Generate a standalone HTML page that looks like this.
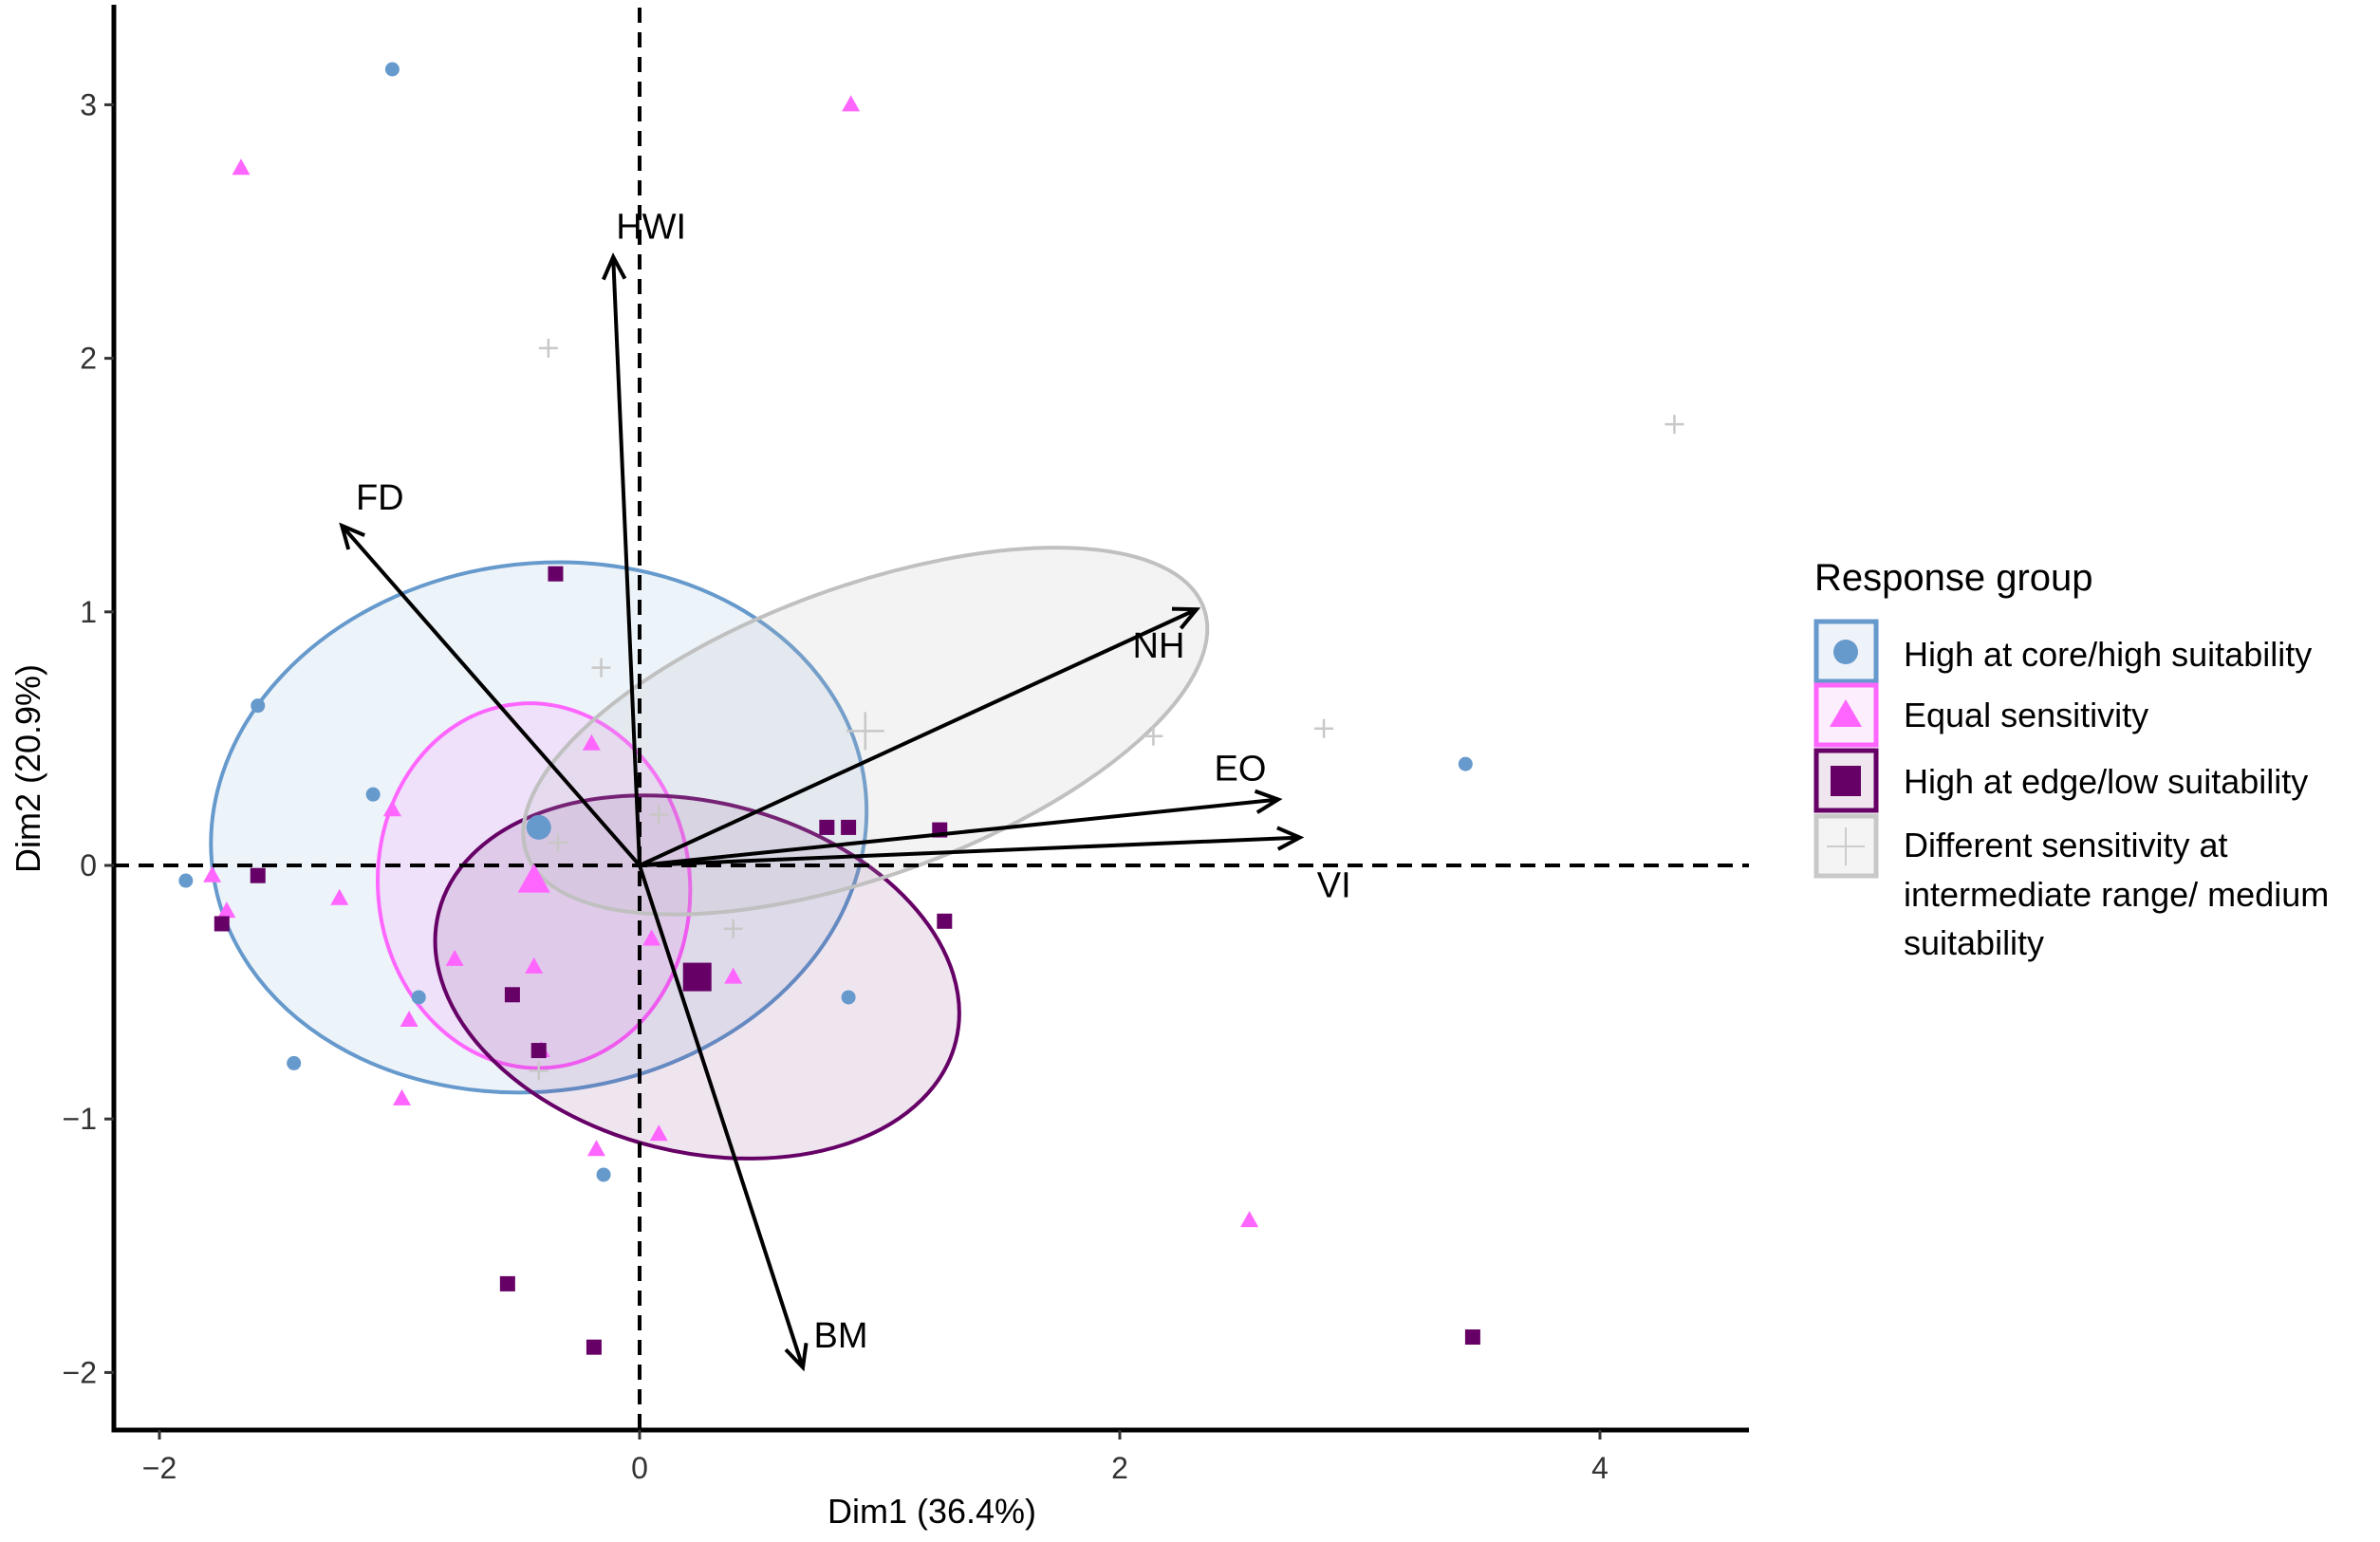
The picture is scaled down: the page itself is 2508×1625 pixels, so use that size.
<!DOCTYPE html>
<html><head><meta charset="utf-8"><style>
body{margin:0;background:#fff;}
svg text{font-family:"Liberation Sans",sans-serif;}
</style></head><body>
<svg id="chart" width="2508" height="1620" viewBox="0 0 2508 1620" xmlns="http://www.w3.org/2000/svg">
<g id="ellipses"></g>
<g id="refs"></g>
<g id="points"></g>
<g id="arrows"></g>
<g id="axes"></g>
<g id="legend">
 <text x="1912" y="622" font-size="40" fill="#000">Response group</text>
 <g>
  <rect x="1914" y="655" width="63" height="63" fill="#eef3fa" stroke="#6699cc" stroke-width="5"/>
  <circle cx="1945" cy="687" r="13" fill="#6699cc"/>
  <text x="2006" y="702" font-size="36" fill="#000">High at core/high suitability</text>
 </g>
 <g>
  <rect x="1914" y="722" width="63" height="63" fill="#fdeefd" stroke="#ff66ff" stroke-width="5"/>
  <polygon points="1945,737 1962,766 1928,766" fill="#ff66ff"/>
  <text x="2006" y="766" font-size="36" fill="#000">Equal sensitivity</text>
 </g>
 <g>
  <rect x="1914" y="791" width="63" height="63" fill="#efe6ef" stroke="#660066" stroke-width="5"/>
  <rect x="1929" y="807" width="32" height="32" fill="#660066"/>
  <text x="2006" y="836" font-size="36" fill="#000">High at edge/low suitability</text>
 </g>
 <g>
  <rect x="1914" y="860" width="63" height="63" fill="#f4f4f4" stroke="#c8c8c8" stroke-width="5"/>
  <path d="M1925 892 H1965 M1945 872 V912" stroke="#cccccc" stroke-width="2"/>
  <text x="2006" y="903" font-size="36" fill="#000">Different sensitivity at</text>
  <text x="2006" y="955" font-size="36" fill="#000">intermediate range/ medium</text>
  <text x="2006" y="1006" font-size="36" fill="#000">suitability</text>
 </g>
</g>
</svg>
<script>
const xTicks=[-2,0,2,4];
const yTicks=[-2,-1,0,1,2,3];
const coreX=[-1.03,-1.59,-1.11,-1.89,-0.92,-1.44,-0.15,0.87,3.44];
const coreY=[3.14,0.63,0.28,-0.06,-0.52,-0.78,-1.22,-0.52,0.40];
const equalX=[-1.66,0.88,-1.78,-1.72,-1.25,-1.03,-0.2,-0.77,-0.44,-0.96,-0.41,-0.99,-0.18,0.08,0.05,0.39,2.54];
const equalY=[2.75,3.0,-0.04,-0.18,-0.13,0.22,0.48,-0.37,-0.40,-0.61,-0.73,-0.92,-1.12,-1.06,-0.29,-0.44,-1.40];
const edgeX=[-0.35,-1.59,-1.74,0.78,0.87,1.25,1.27,-0.53,-0.42,-0.55,-0.19,3.47];
const edgeY=[1.15,-0.04,-0.23,0.15,0.15,0.14,-0.22,-0.51,-0.73,-1.65,-1.90,-1.86];
const midX=[-0.38,4.31,-0.16,2.14,2.85,0.08,-0.34,0.39,-0.42];
const midY=[2.04,1.74,0.78,0.51,0.54,0.20,0.09,-0.25,-0.81];
const centroidX=[-0.42,-0.44,0.24,0.94];
const centroidY=[0.15,-0.06,-0.44,0.53];
const varNames=["HWI","FD","NH","EO","VI","BM"];
const varX=[-0.11,-1.24,2.32,2.66,2.75,0.68];
const varY=[2.40,1.34,1.01,0.26,0.11,-1.98];
const ellCX=[-0.42,-0.44,0.24,0.94];
const ellCY=[0.15,-0.08,-0.44,0.53];
const ellRX=[1.37,0.65,1.11,1.50];
const ellRY=[1.04,0.72,0.69,0.57];
const ellAng=[-8,-5,14,-20];

const X=v=>674+253*v, Y=v=>912-267.2*v;
const NS="http://www.w3.org/2000/svg";
function mk(tag,attrs,parent){const e=document.createElementNS(NS,tag);for(const k in attrs)e.setAttribute(k,attrs[k]);document.getElementById(parent).appendChild(e);return e;}
const strokes=["#6699cc","#ff66ff","#660066","#c0c0c0"];
const fills=["rgba(102,153,204,0.12)","rgba(255,102,255,0.12)","rgba(102,0,102,0.1)","rgba(190,190,190,0.18)"];
const gnames=["core","equal","edge","intermediate"];
for(let i=0;i<4;i++){
 const e=mk("ellipse",{cx:X(ellCX[i]),cy:Y(ellCY[i]),rx:ellRX[i]*253,ry:ellRY[i]*267.2,transform:`rotate(${ellAng[i]} ${X(ellCX[i])} ${Y(ellCY[i])})`,fill:fills[i],stroke:strokes[i],"stroke-width":4},"ellipses");
 
 
}
const v=mk("line",{x1:X(0),y1:8,x2:X(0),y2:1507,stroke:"#000","stroke-width":4,"stroke-dasharray":"16,10"},"refs");


const h=mk("line",{x1:120,y1:Y(0),x2:1843,y2:Y(0),stroke:"#000","stroke-width":4,"stroke-dasharray":"16,10"},"refs");



function circ(x,y,r){const e=mk("circle",{cx:X(x),cy:Y(y),r:r,fill:"#6699cc"},"points");}
function tri(x,y,s){const cx=X(x),cy=Y(y);const e=mk("polygon",{points:`${cx},${cy-s} ${cx+s*0.95},${cy+s*0.7} ${cx-s*0.95},${cy+s*0.7}`,fill:"#ff66ff"},"points");}
function sq(x,y,s){const e=mk("rect",{x:X(x)-s/2,y:Y(y)-s/2,width:s,height:s,fill:"#660066"},"points");}
function cross(x,y,s){const cx=X(x),cy=Y(y);const e=mk("path",{d:`M${cx-s} ${cy}H${cx+s}M${cx} ${cy-s}V${cy+s}`,stroke:"#c8c8c8","stroke-width":2.5},"points");}
coreX.forEach((x,i)=>circ(x,coreY[i],7.5));
equalX.forEach((x,i)=>tri(x,equalY[i],10));
edgeX.forEach((x,i)=>sq(x,edgeY[i],16));
midX.forEach((x,i)=>cross(x,midY[i],10));
circ(centroidX[0],centroidY[0],13);
tri(centroidX[1],centroidY[1],18);
sq(centroidX[2],centroidY[2],30);
cross(centroidX[3],centroidY[3],20);

const labOff=[[40,-32],[40,-30],[-40,38],[-40,-33],[36,50],[40,-34]];
varNames.forEach((n,i)=>{
 const x2=X(varX[i]),y2=Y(varY[i]),x1=X(0),y1=Y(0);
 const a=Math.atan2(y2-y1,x2-x1),L=26,w=0.45;
 const g=mk("g",{},"arrows");
 
 
 const p=document.createElementNS(NS,"path");
 p.setAttribute("d",`M${x1} ${y1}L${x2} ${y2}M${x2-L*Math.cos(a-w)} ${y2-L*Math.sin(a-w)}L${x2} ${y2}L${x2-L*Math.cos(a+w)} ${y2-L*Math.sin(a+w)}`);
 p.setAttribute("stroke","#000");p.setAttribute("stroke-width","4");p.setAttribute("fill","none");
 g.appendChild(p);
 const t=document.createElementNS(NS,"text");
 t.setAttribute("x",x2+labOff[i][0]);t.setAttribute("y",y2+labOff[i][1]+13);
 t.setAttribute("text-anchor","middle");t.setAttribute("font-size","38");t.textContent=n;
 g.appendChild(t);
});

const ax=mk("path",{d:"M120 5V1507H1843",stroke:"#000","stroke-width":5,fill:"none"},"axes");


xTicks.forEach(t=>{
 const l=mk("line",{x1:X(t),y1:1507,x2:X(t),y2:1517,stroke:"#333","stroke-width":3},"axes");
 
 
 const tx=mk("text",{x:X(t),y:1558,"text-anchor":"middle","font-size":"32",fill:"#333"},"axes");
 tx.textContent=(t<0?"\u2212"+(-t):t);
 
 
});
yTicks.forEach(t=>{
 const l=mk("line",{x1:110,y1:Y(t),x2:120,y2:Y(t),stroke:"#333","stroke-width":3},"axes");
 
 
 const tx=mk("text",{x:102,y:Y(t)+11,"text-anchor":"end","font-size":"32",fill:"#333"},"axes");
 tx.textContent=(t<0?"\u2212"+(-t):t);
 
 
});
const xt=mk("text",{x:982,y:1605,"text-anchor":"middle","font-size":"36",fill:"#000"},"axes");
xt.textContent="Dim1 (36.4%)";


const yt=mk("text",{x:0,y:0,"text-anchor":"middle","font-size":"36",fill:"#000",transform:"translate(42 810) rotate(-90)"},"axes");
yt.textContent="Dim2 (20.9%)";


</script>
</body></html>
